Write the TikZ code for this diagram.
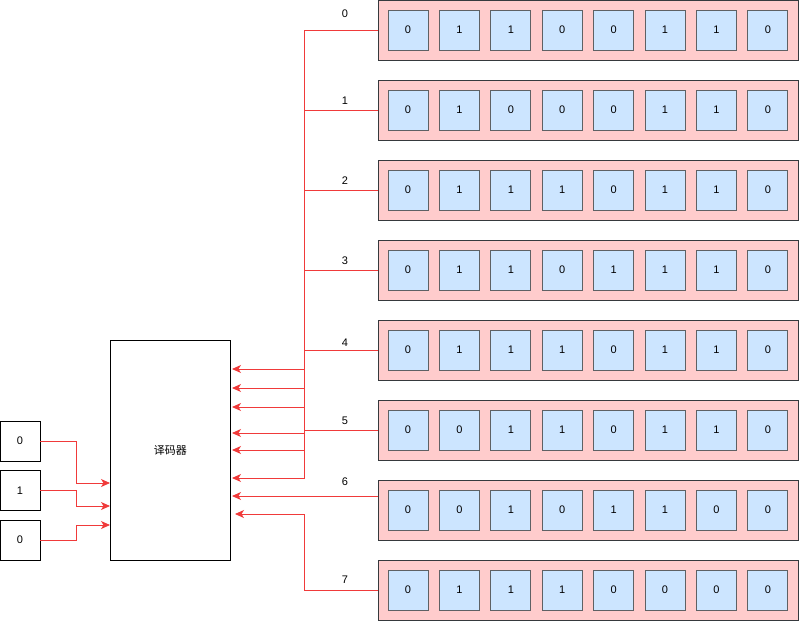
\documentclass[tikz,border=0pt]{standalone}
\usepackage{fontspec}
\setmainfont{Liberation Sans}
\newfontfamily\cjkfont{Noto Sans CJK SC}
\usetikzlibrary{arrows.meta}

\def\trunkx{304}
\def\rowdy{80}
\def\celldx{51.4}
\definecolor{regpink}{HTML}{FFCCCC}
\definecolor{cellblue}{HTML}{CCE5FF}
\definecolor{wirered}{HTML}{F03A3A}
\definecolor{edgegray}{HTML}{36393D}

\begin{document}
\begin{tikzpicture}[x=1pt,y=-1pt,line width=0.8pt,font=\fontsize{11}{13}\selectfont]
  \tikzset{
    regbox/.style={draw=edgegray,fill=regpink,minimum width=420,minimum height=60,inner sep=0,anchor=north west},
    cellbox/.style={draw=edgegray!80,fill=cellblue,line width=1pt,minimum size=40,inner sep=0},
    inbox/.style={draw,minimum size=40,inner sep=0},
    wire/.style={wirered,line width=0.9pt,-{Stealth[length=9pt,width=8pt,inset=2.5pt]}},
    tag/.style={inner sep=0}
  }
  \useasboundingbox (0,0) rectangle (799,621);
  % registers
  \foreach \ly/\bits [count=\r from 0] in {14/{0,1,1,0,0,1,1,0}, 101/{0,1,0,0,0,1,1,0},
      181/{0,1,1,1,0,1,1,0}, 261/{0,1,1,0,1,1,1,0}, 343/{0,1,1,1,0,1,1,0},
      421/{0,0,1,1,0,1,1,0}, 482/{0,0,1,0,1,1,0,0}, 580/{0,1,1,1,0,0,0,0}} {
    \node[regbox] (reg\r) at (378,{\r*\rowdy}) {};
    \foreach \b [count=\c from 0] in \bits {
      \node[cellbox] (cell\r-\c) at ({408+\c*\celldx},{\r*\rowdy+30}) {\b};
    }
    \node[tag] (tag\r) at (345,\ly) {\r};
  }
  % decoder and inputs
  \node[draw,line width=0.8pt,minimum width=120,minimum height=220,anchor=north west] (dec) at (110,340) {\cjkfont 译码器};
  \foreach \v/\jy [count=\n from 0] in {0/483, 1/506, 0/525} {
    \node[inbox] (bit\n) at (20,{441+\n*49.5}) {\v};
    \coordinate (jog\n) at (76,\jy);
    \draw[wire] (bit\n.east) -| (jog\n) -- (dec.west |- jog\n);
  }
  % word lines back to decoder
  \foreach \ay [count=\r from 0] in {369,388,407,433,450,478} {
    \coordinate (bend\r) at (\trunkx,\ay);
    \coordinate (in\r) at (232,\ay);
    \draw[wire] (reg\r.west) -| (bend\r) -- (in\r);
  }
  \coordinate (in6) at (232,496);
  \draw[wire] (reg6.west |- in6) -- (in6);
  \coordinate (bend7) at (\trunkx,514);
  \coordinate (in7) at (235,514);
  \draw[wire] (reg7.west) -| (bend7) -- (in7);
\end{tikzpicture}
\end{document}
